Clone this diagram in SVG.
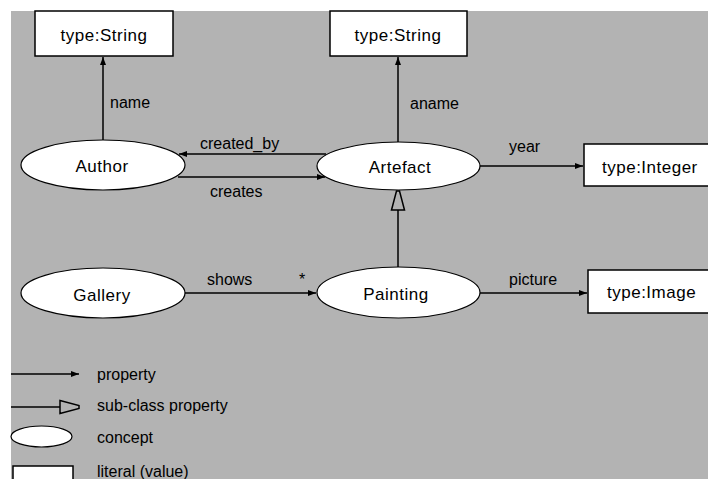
<svg xmlns="http://www.w3.org/2000/svg" width="708" height="479" viewBox="0 0 708 479">
<defs>
<style>
text{font-family:"Liberation Sans",Arial,sans-serif;font-size:16px;fill:#000}
.t{font-size:17px;letter-spacing:0.5px}
.n{fill:#fff;stroke:#000;stroke-width:1.2}
.box{fill:#fff;stroke:#000;stroke-width:1.5}
.c{stroke:#000;stroke-width:1.5;fill:none}
.mid{text-anchor:middle}
</style>
<marker id="arr" markerUnits="userSpaceOnUse" markerWidth="10" markerHeight="8" refX="8" refY="4" orient="auto">
<path d="M0,1 L8,4 L0,7 Z" fill="#000"/>
</marker>
<marker id="tri" markerUnits="userSpaceOnUse" markerWidth="22" markerHeight="16" refX="20" refY="8" orient="auto">
<path d="M1,1.5 L20,6.5 L20,9.5 L1,14.5 Z" fill="#b3b3b3" stroke="#000" stroke-width="1.5"/>
</marker>
</defs>
<rect x="0" y="0" width="708" height="479" fill="#fff"/>
<rect x="11" y="11" width="697" height="468" fill="#b3b3b3"/>

<g id="connectors">
<line class="c" x1="103" y1="140" x2="103" y2="57" marker-end="url(#arr)"/>
<text x="110" y="108">name</text>
<line class="c" x1="398" y1="142" x2="398" y2="57" marker-end="url(#arr)"/>
<text x="410" y="109">aname</text>
<line class="c" x1="326" y1="154" x2="179" y2="154" marker-end="url(#arr)"/>
<text x="200" y="149">created_by</text>
<line class="c" x1="178" y1="177" x2="325" y2="177" marker-end="url(#arr)"/>
<text x="210" y="197">creates</text>
<line class="c" x1="480" y1="166" x2="583" y2="166" marker-end="url(#arr)"/>
<text x="509" y="152">year</text>
<line class="c" x1="398" y1="267" x2="398" y2="191" marker-end="url(#tri)"/>
<line class="c" x1="185" y1="293" x2="316" y2="293" marker-end="url(#arr)"/>
<text x="207" y="285">shows</text>
<text x="299" y="285">*</text>
<line class="c" x1="480" y1="293" x2="587" y2="293" marker-end="url(#arr)"/>
<text x="509" y="285">picture</text>
</g>

<g id="string1"><rect class="box" x="35" y="11" width="138" height="45"/><text class="t mid" x="104" y="41">type:String</text></g>
<g id="string2"><rect class="box" x="330" y="11" width="137" height="45"/><text class="t mid" x="398" y="41">type:String</text></g>
<g id="integer"><rect class="box" x="584" y="144" width="130" height="42"/><text class="t" x="602" y="173">type:Integer</text></g>
<g id="image"><rect class="box" x="588" y="270" width="126" height="43"/><text class="t" x="607" y="298">type:Image</text></g>

<g id="author"><ellipse class="n" cx="103" cy="165" rx="82" ry="25"/><text class="t mid" x="102" y="172">Author</text></g>
<g id="artefact"><ellipse class="n" cx="398.5" cy="166" rx="81.5" ry="24"/><text class="t mid" x="400" y="173">Artefact</text></g>
<g id="gallery"><ellipse class="n" cx="103" cy="293" rx="82" ry="25"/><text class="t mid" x="102" y="301">Gallery</text></g>
<g id="painting"><ellipse class="n" cx="398.5" cy="292.5" rx="81.5" ry="25.5"/><text class="t mid" x="396" y="300">Painting</text></g>

<g id="legend">
<line class="c" x1="11" y1="374" x2="79" y2="374" marker-end="url(#arr)"/>
<text x="97" y="380">property</text>
<line class="c" x1="11" y1="407" x2="79" y2="407" marker-end="url(#tri)"/>
<text x="97" y="411">sub-class property</text>
<ellipse class="n" cx="41.5" cy="436.5" rx="30.5" ry="10.5"/>
<text x="97" y="443">concept</text>
<rect class="box" x="13" y="466" width="60" height="20"/>
<text x="97" y="477">literal (value)</text>
</g>
</svg>
